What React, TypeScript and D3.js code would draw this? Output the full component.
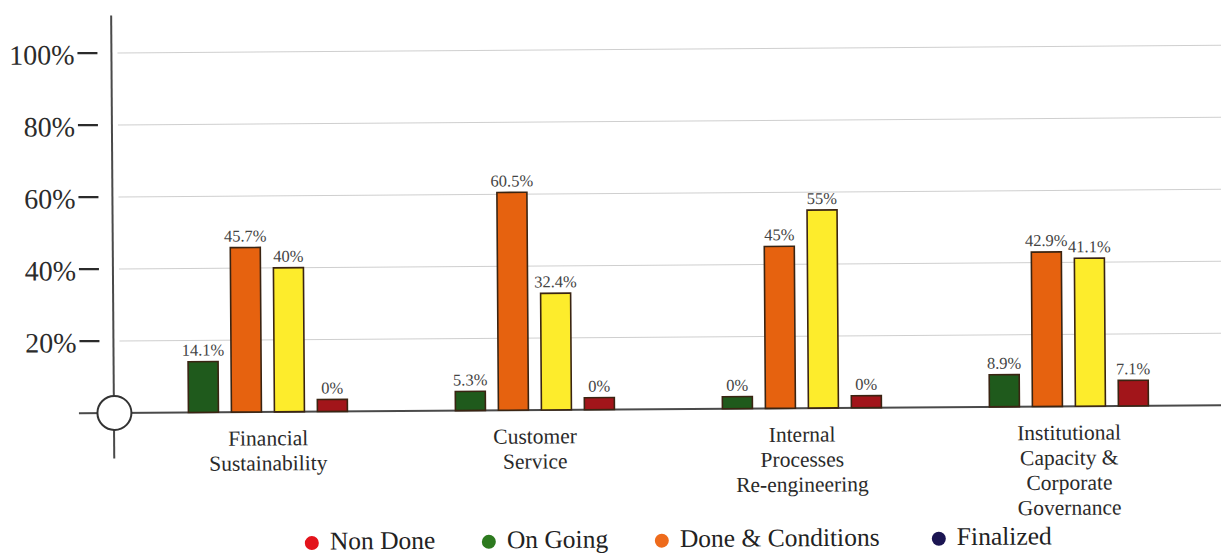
import React from "react";
import * as d3 from "d3";

// ---- data ----
const categories = ["Financial Sustainability", "Customer Service", "Internal Processes Re-engineering", "Institutional Capacity & Corporate Governance"];
const categoryLines = [
  ["Financial", "Sustainability"],
  ["Customer", "Service"],
  ["Internal", "Processes", "Re-engineering"],
  ["Institutional", "Capacity &", "Corporate", "Governance"],
];
const seriesGreen = [14.1, 5.3, 0, 8.9];
const seriesOrange = [45.7, 60.5, 45, 42.9];
const seriesYellow = [40, 32.4, 55, 41.1];
const seriesRed = [0, 0, 0, 7.1];
const yTicks = [20, 40, 60, 80, 100];
const legendLabels = ["Non Done", "On Going", "Done & Conditions", "Finalized"];

// ---- style ----
const barColors = ["#1f5a1c", "#e6620f", "#fdec2c", "#a2151a"];
const legendColors = ["#e3131b", "#2d7a1f", "#ee6b1c", "#1b1552"];
const legendX = [310, 487, 660, 937];
const W = 1221;
const H = 556;
const FONT = "'Liberation Serif', 'DejaVu Serif', serif";
const MIN_BAR_PX = 12;

export default function App() {
  const series = [seriesGreen, seriesOrange, seriesYellow, seriesRed];
  const y = d3.scaleLinear().domain([0, 100]).range([409.5, 49.5]);
  const x0 = d3.scalePoint<string>().domain(categories).range([267, 1068]);
  const x1 = d3
    .scaleBand<number>()
    .domain(d3.range(series.length))
    .range([-79.5, 79.5])
    .paddingInner(0.302);
  const base = y(0);

  return (
    <svg
      width={W}
      height={H}
      style={{ position: "absolute", left: 0, top: 0, background: "#fff" }}
      fontFamily={FONT}
    >
      <rect width={W} height={H} fill="#fff" />
      <g transform="rotate(-0.4 610 278)">
        {/* gridlines */}
        {yTicks.map((t) => (
          <line key={"g" + t} x1={119} x2={1250} y1={y(t)} y2={y(t)} stroke="#cfcfcf" strokeWidth={1} />
        ))}
        {/* tick dashes & labels */}
        {yTicks.map((t) => (
          <g key={"t" + t}>
            <line x1={79} x2={99} y1={y(t)} y2={y(t)} stroke="#2b2b2b" strokeWidth={2.2} />
            <text x={76} y={y(t) + 11} textAnchor="end" fontSize={28} fill="#2b2b2b">
              {t + "%"}
            </text>
          </g>
        ))}
        {/* baseline */}
        <line x1={78} x2={1250} y1={base} y2={base} stroke="#4a4a4a" strokeWidth={2} />
        {/* vertical axis */}
        <line x1={113} x2={113} y1={12} y2={455} stroke="#4a4a4a" strokeWidth={2} />
        <circle cx={113.5} cy={base} r={17} fill="#fff" stroke="#333" strokeWidth={2} />

        {/* bars */}
        {categories.map((c, ci) => (
          <g key={c} transform={`translate(${x0(c)},0)`}>
            {series.map((s, si) => {
              const v = s[ci];
              const top = Math.min(y(v), base - MIN_BAR_PX);
              return (
                <g key={si}>
                  <rect
                    x={x1(si)}
                    y={top}
                    width={x1.bandwidth()}
                    height={base - top}
                    fill={barColors[si]}
                    stroke="#3a2412"
                    strokeWidth={1.6}
                  />
                  <text
                    x={(x1(si) as number) + x1.bandwidth() / 2}
                    y={top - 6}
                    textAnchor="middle"
                    fontSize={16.5}
                    fill="#444"
                  >
                    {v + "%"}
                  </text>
                </g>
              );
            })}
            {categoryLines[ci].map((ln, li) => (
              <text
                key={li}
                x={0}
                y={443 + li * 25}
                textAnchor="middle"
                fontSize={21.5}
                fill="#2a2a2a"
              >
                {ln}
              </text>
            ))}
          </g>
        ))}

        {/* legend */}
        {legendLabels.map((l, i) => (
          <g key={l}>
            <circle cx={legendX[i]} cy={541} r={7} fill={legendColors[i]} />
            <text x={legendX[i] + 18} y={547.5} fontSize={25.5} fill="#222">
              {l}
            </text>
          </g>
        ))}
      </g>
    </svg>
  );
}
